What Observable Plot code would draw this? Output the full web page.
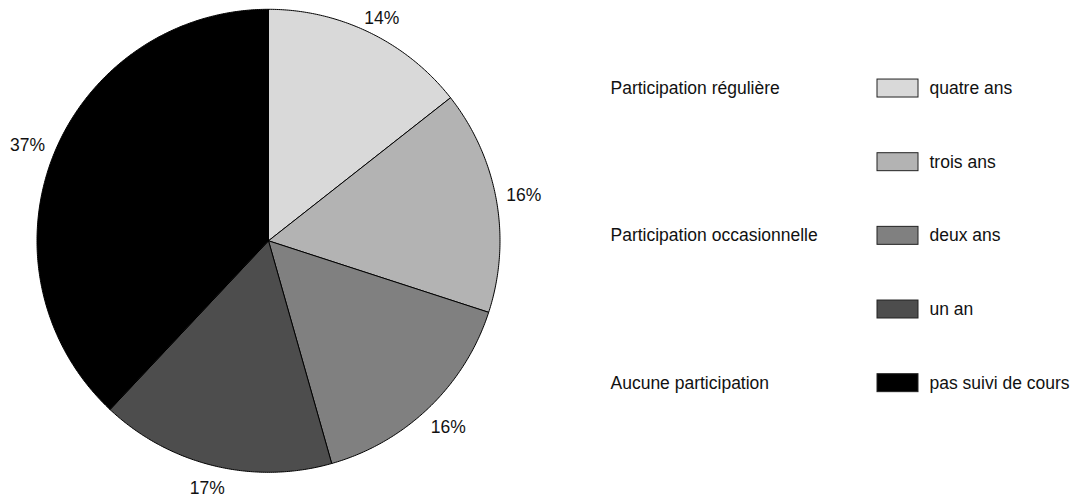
<!DOCTYPE html>
<html>
<head>
<meta charset="utf-8">
<script src="https://cdn.jsdelivr.net/npm/d3@7"></script>
<script src="https://cdn.jsdelivr.net/npm/@observablehq/plot@0.6"></script>
<style>
  html, body { margin: 0; padding: 0; background: #fff; }
  #wrap { display: flex; width: 1080px; height: 499px; font-family: "Liberation Sans", Arial, Helvetica, sans-serif; }
  svg { font-family: "Liberation Sans", Arial, Helvetica, sans-serif; }
</style>
</head>
<body>
<div id="wrap"></div>
<script>
// ---- data ----
const categories = ["quatre ans", "trois ans", "deux ans", "un an", "pas suivi de cours"];
const shares = [14.4, 15.6, 15.6, 16.4, 38.0];
const pctLabels = ["14%", "16%", "16%", "17%", "37%"];
const groups = ["Participation régulière", "Participation occasionnelle", "Aucune participation"];
const groupRows = ["quatre ans", "deux ans", "pas suivi de cours"];
const greys = ["#d9d9d9", "#b3b3b3", "#808080", "#4d4d4d", "#000000"];

// ---- pie geometry derived from the shares ----
const total = d3.sum(shares);
let cum = 0;
const polyPts = [];
const labelPts = [];
categories.forEach((cat, i) => {
  const a0 = cum / total * 2 * Math.PI;
  cum += shares[i];
  const a1 = cum / total * 2 * Math.PI;
  polyPts.push({cat, x: 0, y: 0});
  const n = Math.max(2, Math.ceil((a1 - a0) / (Math.PI / 360)));
  for (let k = 0; k <= n; k++) {
    const a = a0 + (a1 - a0) * k / n;
    polyPts.push({cat, x: Math.sin(a), y: Math.cos(a)});
  }
  polyPts.push({cat, x: 0, y: 0});
  const am = (a0 + a1) / 2;
  const lr = 1.12;
  let ly = Math.cos(am) * lr;
  ly = Math.max(-1.07, Math.min(0.96, ly));
  labelPts.push({cat, label: pctLabels[i], x: Math.sin(am) * lr, y: ly});
});

const color = {domain: categories, range: greys};
const fontSize = "17.5px";

const pie = Plot.plot({
  width: 560,
  height: 499,
  margin: 0,
  x: {domain: [-1, 1], range: [36.5, 499.5], axis: null},
  y: {domain: [-1, 1], range: [471.8, 8.8], axis: null},
  color,
  style: {background: "#fff", fontSize},
  marks: [
    Plot.line(polyPts, {x: "x", y: "y", z: "cat", fill: "cat", stroke: "#000", strokeWidth: 1, strokeLinejoin: "round", curve: "linear"}),
    Plot.text(labelPts, {x: "x", y: "y", text: "label", fill: "#111", fontSize})
  ]
});

const legend = Plot.plot({
  width: 520,
  height: 499,
  marginLeft: 50,
  marginRight: 0,
  marginTop: 0,
  marginBottom: 0,
  x: {domain: [0, 1], range: [317, 358], axis: null},
  y: {type: "band", domain: categories, range: [51.2, 419.5], paddingInner: 0.756, paddingOuter: 0.378, round: false, axis: null},
  color,
  style: {background: "#fff", fontSize},
  marks: [
    Plot.barX(categories, {x1: 0, x2: 1, y: d => d, fill: d => d, stroke: "#222", strokeWidth: 1}),
    Plot.text(categories, {x: 1, y: d => d, text: d => d, dx: 11, textAnchor: "start", fill: "#111", fontSize}),
    Plot.text(groups, {y: (d, i) => groupRows[i], text: d => d, frameAnchor: "left", textAnchor: "start", fill: "#111", fontSize})
  ]
});

const wrap = document.getElementById("wrap");
wrap.appendChild(pie);
wrap.appendChild(legend);
</script>
</body>
</html>
